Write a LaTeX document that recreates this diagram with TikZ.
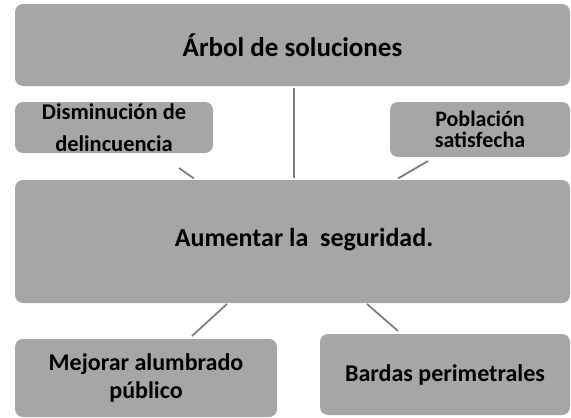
\documentclass[tikz,border=0pt]{standalone}
\usepackage{fontspec}
\setmainfont{Carlito}
\usepackage{tikz}
\usetikzlibrary{calc,positioning}
\definecolor{boxgray}{HTML}{A6A6A6}
\definecolor{linegray}{HTML}{7F7F7F}

\begin{document}
\begin{tikzpicture}[x=1pt, y=-1pt,
  box/.style={fill=boxgray, rounded corners=8pt, align=center, inner sep=0pt, font=\bfseries},
  link/.style={draw=linegray, line width=1.8pt}]

\useasboundingbox (0,0) rectangle (571,418);

% Cajas
\node[box, minimum width=555pt, minimum height=82pt, font=\bfseries\fontsize{27}{32}\selectfont] (top) at (292.5,45) {Árbol de soluciones};
\node[box, minimum width=198pt, minimum height=51pt, font=\bfseries\fontsize{22.5}{32}\selectfont] (dis) at (114,127.5) {Disminución de\\delincuencia};
\node[box, minimum width=180pt, minimum height=55pt, font=\bfseries\fontsize{22}{21.6}\selectfont] (pob) at (480,129.5) {Población\\satisfecha};
\node[box, minimum width=555pt, minimum height=123pt] (main) at (292.5,241.5) {};
\node[font=\bfseries\fontsize{26}{30}\selectfont, inner sep=0pt] (mainlbl) at (304,240) {Aumentar la\ \ seguridad.};
\node[box, minimum width=262pt, minimum height=78pt, font=\bfseries\fontsize{24}{28}\selectfont] (mej) at (146,378) {Mejorar alumbrado\\público};
\node[box, minimum width=250pt, minimum height=81pt, font=\bfseries\fontsize{24}{28}\selectfont] (bar) at (445,374.5) {Bardas perimetrales};

% Conectores
\coordinate (dl) at (179,168);
\coordinate (pr) at (428,161);
\coordinate (ml) at (192,336);
\coordinate (br) at (398,331);
\draw[link] ([xshift=1.5pt,yshift=-2pt]top.south) -- ([xshift=1.5pt,yshift=2pt]main.north);
\draw[link] (dl) -- (194,178.5);
\draw[link] (pr) -- (398,178.5);
\draw[link] (227,304) -- (ml);
\draw[link] (367,304) -- (br);

\end{tikzpicture}
\end{document}
